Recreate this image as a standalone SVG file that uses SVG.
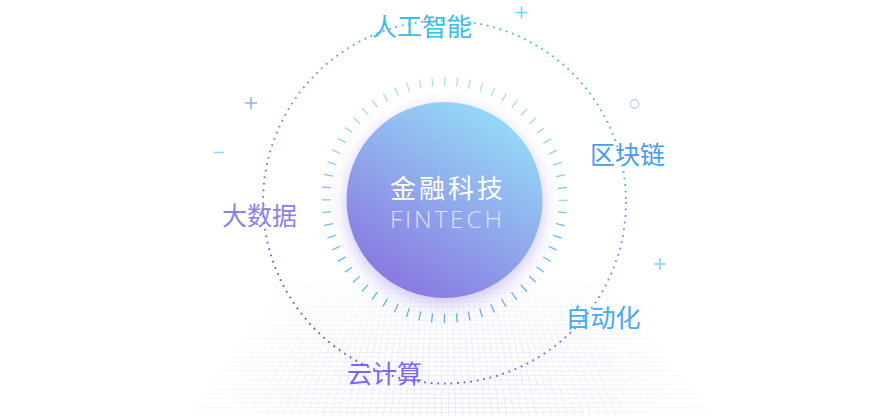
<svg xmlns="http://www.w3.org/2000/svg" width="890" height="420" viewBox="0 0 890 420">
  <defs>
    <style>
      .lbl { font-family: "Noto Sans CJK SC", "Noto Sans", sans-serif; font-size: 25px; text-anchor: middle; }
      .deco { fill: none; stroke-width: 1.6; stroke-linecap: butt; }
    </style>
    <linearGradient id="gOrbit" x1="0.8" y1="0" x2="0.3" y2="1">
      <stop offset="0" stop-color="#4cc6ee"/>
      <stop offset="0.45" stop-color="#7f98f0"/>
      <stop offset="1" stop-color="#6c5cf0"/>
    </linearGradient>
    <linearGradient id="gTicks" x1="0" y1="0" x2="0" y2="1">
      <stop offset="0" stop-color="#aee0f8"/>
      <stop offset="0.5" stop-color="#7cc4f2"/>
      <stop offset="1" stop-color="#5daef0"/>
    </linearGradient>
    <linearGradient id="gCore" x1="0.8" y1="0.05" x2="0.25" y2="0.95">
      <stop offset="0" stop-color="#95dcf7"/>
      <stop offset="0.5" stop-color="#90aaec"/>
      <stop offset="1" stop-color="#8a78e0"/>
    </linearGradient>
    <filter id="glow" x="-30%" y="-30%" width="160%" height="170%">
      <feGaussianBlur in="SourceAlpha" stdDeviation="9"/>
      <feOffset dy="6" result="b"/>
      <feFlood flood-color="#8f80e6" flood-opacity="0.45"/>
      <feComposite in2="b" operator="in"/>
      <feMerge>
        <feMergeNode/>
        <feMergeNode in="SourceGraphic"/>
      </feMerge>
    </filter>
    <pattern id="hLines" patternUnits="userSpaceOnUse" x="0" y="283" width="20" height="4.6">
      <rect x="0" y="0" width="20" height="0.9" fill="#e0e0f7"/>
    </pattern>
    <radialGradient id="gFade" gradientUnits="userSpaceOnUse" cx="450" cy="405" r="290" gradientTransform="translate(450 405) scale(1 0.55) translate(-450 -405)">
      <stop offset="0" stop-color="#fff" stop-opacity="0.8"/>
      <stop offset="0.5" stop-color="#fff" stop-opacity="0.55"/>
      <stop offset="0.85" stop-color="#fff" stop-opacity="0.15"/>
      <stop offset="1" stop-color="#fff" stop-opacity="0"/>
    </radialGradient>
    <mask id="gridMask" maskUnits="userSpaceOnUse" x="0" y="0" width="890" height="420">
      <polygon points="285,283 607,283 714,416 188,416" fill="url(#gFade)"/>
    </mask>
  </defs>

  <rect x="0" y="0" width="890" height="420" fill="#ffffff"/>

  <!-- perspective floor grid -->
  <g id="floor-grid" mask="url(#gridMask)">
    <rect x="150" y="283" width="600" height="137" fill="url(#hLines)"/>
    <circle cx="444" cy="-20" r="380" fill="none" stroke="#e0e0f7" stroke-width="180" stroke-dasharray="0.85 5.45"/>
  </g>

  <!-- connectors / orbit -->
  <g id="connectors">
    <circle cx="444.5" cy="202" r="181.5" fill="none" stroke="url(#gOrbit)" stroke-width="2" stroke-dasharray="1.8 4.8"/>
  </g>

  <!-- tick ring -->
  <g id="tick-ring">
    <circle cx="444.5" cy="200" r="118.5" fill="none" stroke="url(#gTicks)" stroke-width="9" stroke-dasharray="1.3 11.11" stroke-dashoffset="0.65"/>
  </g>

  <!-- core node -->
  <g id="node-core">
    <circle cx="444.5" cy="200" r="98" fill="url(#gCore)" filter="url(#glow)"/>
    <text x="390" y="197.5" font-family="Noto Sans CJK SC, Noto Sans, sans-serif" font-size="26" fill="#ffffff" textLength="113" lengthAdjust="spacing">金融科技</text>
    <text x="390" y="228" font-family="Open Sans, Liberation Sans, sans-serif" font-weight="300" font-size="24.5" fill="#dde2f8" textLength="112" lengthAdjust="spacing">FINTECH</text>
  </g>

  <g id="node-ai"><text class="lbl" x="422" y="36" fill="#3cbde9">人工智能</text></g>
  <g id="node-blockchain"><text class="lbl" x="627.5" y="163.5" fill="#4a9cec">区块链</text></g>
  <g id="node-bigdata"><text class="lbl" x="259.5" y="225" fill="#8882e8">大数据</text></g>
  <g id="node-automation"><text class="lbl" x="603" y="327" fill="#45a9ef">自动化</text></g>
  <g id="node-cloud"><text class="lbl" x="384.5" y="383" fill="#7868f0">云计算</text></g>

  <!-- decorations -->
  <g id="decorations">
    <path class="deco" stroke="#6fd0f1" d="M515.5,12.5 H527.5 M521.5,6.5 V18.5"/>
    <path class="deco" stroke="#8fb2ee" d="M245,103 H257 M251,97 V109"/>
    <path class="deco" stroke="#9fd3f2" d="M214,152.5 H224"/>
    <circle cx="634.5" cy="104" r="4.3" fill="none" stroke="#c6d4f3" stroke-width="1.5"/>
    <path class="deco" stroke="#8dd0f2" d="M654,264 H666 M660,258 V270"/>
  </g>
</svg>
